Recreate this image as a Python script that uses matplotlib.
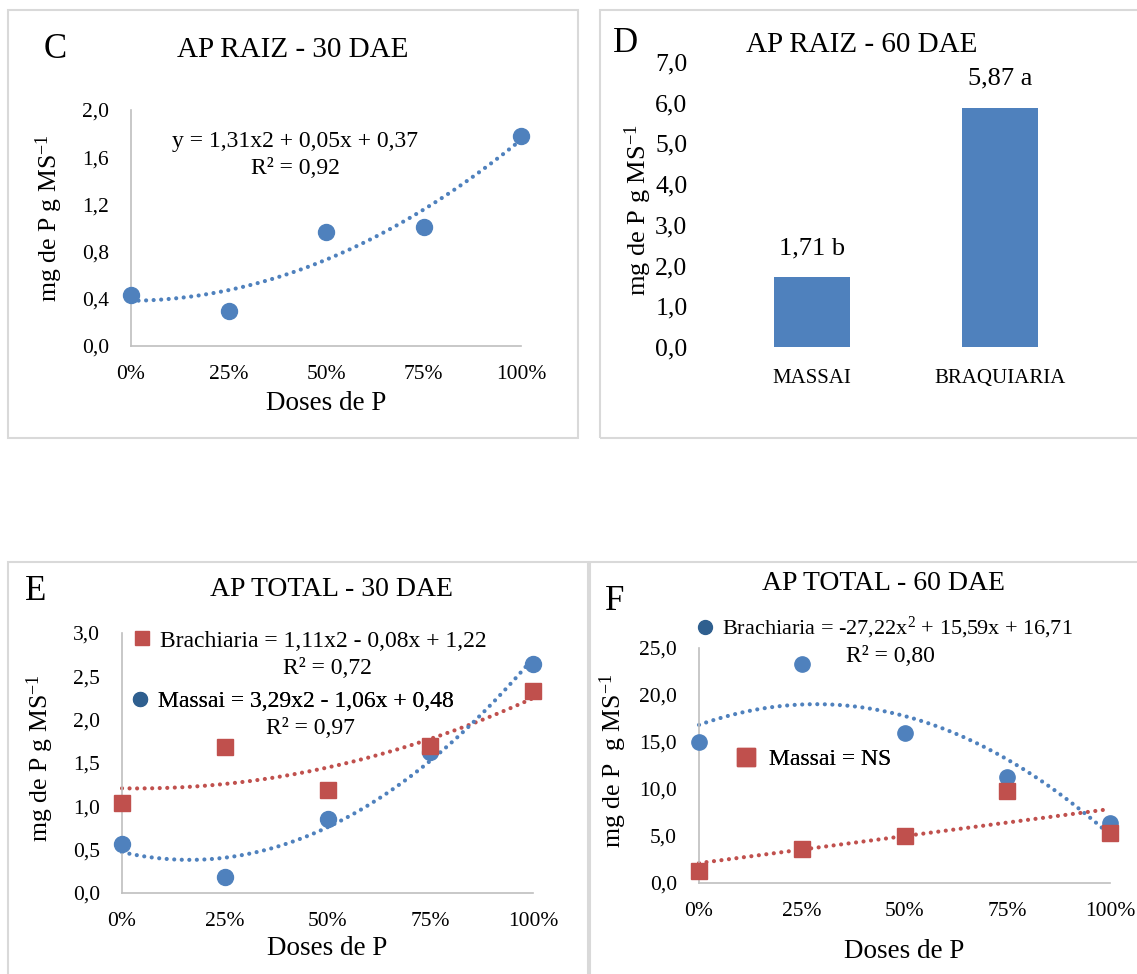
import numpy as np
import matplotlib
matplotlib.use('Agg')
import matplotlib.pyplot as plt
from matplotlib.lines import Line2D
from matplotlib.patches import Rectangle

plt.rcParams['font.family'] = ['Liberation Serif', 'DejaVu Serif']
plt.rcParams['mathtext.fontset'] = 'custom'
plt.rcParams['mathtext.rm'] = 'Liberation Serif'
plt.rcParams['mathtext.it'] = 'Liberation Serif:italic'

# dados
doses = [0.0, 0.25, 0.50, 0.75, 1.00]
dose_labels = ['0%', '25%', '50%', '75%', '100%']

raiz30 = [0.43, 0.30, 0.97, 1.01, 1.78]

cultivares = ['MASSAI', 'BRAQUIARIA']
raiz60 = [1.71, 5.87]
raiz60_letras = ['1,71 b', '5,87 a']

total30_massai = [0.57, 0.18, 0.85, 1.63, 2.64]
total30_brach = [1.04, 1.68, 1.19, 1.70, 2.33]

total60_brach = [14.98, 23.27, 15.97, 11.26, 6.37]
total60_massai = [1.24, 3.61, 4.99, 9.77, 5.35]

azul = '#4F81BD'
verm = '#C0504D'
cinza = '#BFBFBF'
azul_leg = '#2F5F8F'

W, H = 1137, 974
fig = plt.figure(figsize=(W / 100, H / 100), dpi=100)


def fx(px):
    return px / W


def fy(py):
    return 1 - py / H


def eixo(l, t, r, b):
    return fig.add_axes([l / W, 1 - b / H, (r - l) / W, (b - t) / H])


def moldura(l, t, r, b):
    fig.add_artist(Rectangle((fx(l), fy(b)), fx(r) - fx(l), fy(t) - fy(b),
                             transform=fig.transFigure, fill=False,
                             edgecolor='#D9D9D9', lw=1.5))


def virgula(v):
    return '{:.1f}'.format(v).replace('.', ',')


def tendencia(ax, x, y, grau, cor):
    # linha de tendencia polinomial (como no Excel)
    coef = np.polyfit(x, y, grau)
    xx = np.linspace(0, 1, 200)
    ax.plot(xx, np.polyval(coef, xx), color=cor, lw=3.0,
            linestyle=(0, (0.01, 1.8)), dash_capstyle='round', clip_on=False, zorder=2)


def estilo_disp(ax, ymax, passo, tam=15.5):
    ax.set_xlim(0, 1)
    ax.set_ylim(0, ymax)
    ax.set_xticks(doses)
    ax.set_xticklabels(dose_labels)
    yt = np.arange(0, ymax + passo / 2, passo)
    ax.set_yticks(yt)
    ax.set_yticklabels([virgula(v) for v in yt])
    ax.tick_params(length=0, labelsize=tam, pad=14)
    ax.tick_params(axis='y', pad=16)
    for s in ['top', 'right']:
        ax.spines[s].set_visible(False)
    for s in ['left', 'bottom']:
        ax.spines[s].set_color(cinza)
        ax.spines[s].set_linewidth(1.2)


def legenda(ax, marcador, cor, tam, texto, x, y, fs, hl=0.8, tp=0.35):
    leg = ax.legend(handles=[Line2D([], [], marker=marcador, color=cor, ls='none', ms=tam)],
                    labels=[texto], loc='center left',
                    bbox_to_anchor=(fx(x), fy(y)), bbox_transform=fig.transFigure,
                    frameon=False, borderpad=0, borderaxespad=0, handlelength=hl,
                    handletextpad=tp, fontsize=fs)
    ax.add_artist(leg)


ylab = 'mg de P g MS$^{-1}$'

# ---------- C ----------
moldura(8, 10, 578, 438)
axC = eixo(131, 110, 521, 346)
estilo_disp(axC, 2.0, 0.4)
tendencia(axC, doses, raiz30, 2, azul)
axC.plot(doses, raiz30, 'o', color=azul, ms=11.5, clip_on=False, zorder=3)
axC.set_xlabel('Doses de P', fontsize=19.5, labelpad=5)
axC.set_ylabel(ylab, fontsize=18.5)
axC.yaxis.set_label_coords(-0.168, 0.54)
fig.text(fx(55), fy(50), 'C', fontsize=25, ha='center', va='center')
fig.text(fx(293), fy(50), 'AP RAIZ - 30 DAE', fontsize=21, ha='center', va='center')
fig.text(fx(295), fy(141), 'y = 1,31x2 + 0,05x + 0,37', fontsize=17, ha='center', va='center')
fig.text(fx(295), fy(168), 'R² = 0,92', fontsize=17, ha='center', va='center')

# ---------- D ----------
moldura(600, 10, 1150, 438)
axD = eixo(718, 62, 1094, 347)
pos = np.arange(len(cultivares))
axD.bar(pos, raiz60, width=0.4, color=azul)
axD.set_xlim(-0.5, 1.5)
axD.set_ylim(0, 7)
axD.set_yticks(np.arange(0, 7.5, 1))
axD.set_yticklabels([virgula(v) for v in np.arange(0, 7.5, 1)])
axD.set_xticks(pos)
axD.set_xticklabels(cultivares)
axD.tick_params(length=0, labelsize=18.5)
axD.tick_params(axis='y', pad=22)
axD.tick_params(axis='x', labelsize=15, pad=16)
for s in axD.spines.values():
    s.set_visible(False)
for p, v, t in zip(pos, raiz60, raiz60_letras):
    axD.text(p, v + 0.45, t, ha='center', va='bottom', fontsize=19)
axD.set_ylabel(ylab, fontsize=19)
axD.yaxis.set_label_coords(-0.17, 0.48)
fig.text(fx(625), fy(44), 'D', fontsize=25, ha='center', va='center')
fig.text(fx(862), fy(45), 'AP RAIZ - 60 DAE', fontsize=21, ha='center', va='center')

# ---------- E ----------
moldura(8, 562, 588, 985)
axE = eixo(122, 633, 533, 893)
estilo_disp(axE, 3.0, 0.5)
tendencia(axE, doses, total30_brach, 2, verm)
tendencia(axE, doses, total30_massai, 2, azul)
axE.plot(doses, total30_massai, 'o', color=azul, ms=11.5, clip_on=False, zorder=3)
axE.plot(doses, total30_brach, 's', color=verm, ms=11.5, clip_on=False, zorder=4)
axE.set_xlabel('Doses de P', fontsize=19.5, labelpad=3)
axE.set_ylabel(ylab, fontsize=18.5)
axE.yaxis.set_label_coords(-0.16, 0.52)
fig.text(fx(36), fy(591), 'E', fontsize=25, ha='center', va='center')
fig.text(fx(331), fy(590), 'AP TOTAL - 30 DAE', fontsize=20, ha='center', va='center')
legenda(axE, 's', verm, 9.5, 'Brachiaria = 1,11x2 - 0,08x + 1,22', 133, 641, 17)
legenda(axE, 'o', azul_leg, 10, 'Massai = 3,29x2 - 1,06x + 0,48', 131, 701, 17)
fig.text(fx(327), fy(669), 'R² = 0,72', fontsize=17, ha='center', va='center')
fig.text(fx(310), fy(729), 'R² = 0,97', fontsize=17, ha='center', va='center')

# ---------- F ----------
moldura(590, 562, 1150, 985)
axF = eixo(699, 648, 1110, 883)
estilo_disp(axF, 25.0, 5.0)
tendencia(axF, doses, total60_brach, 2, azul)
tendencia(axF, doses, total60_massai, 1, verm)
axF.plot(doses, total60_brach, 'o', color=azul, ms=11, clip_on=False, zorder=3)
axF.plot(doses, total60_massai, 's', color=verm, ms=12, clip_on=False, zorder=4)
axF.set_xlabel('Doses de P', fontsize=19.5, labelpad=13)
axF.set_ylabel('mg de P  g MS$^{-1}$', fontsize=18.5)
axF.yaxis.set_label_coords(-0.17, 0.52)
fig.text(fx(615), fy(602), 'F', fontsize=25, ha='center', va='center')
fig.text(fx(884), fy(583), 'AP TOTAL - 60 DAE', fontsize=20, ha='center', va='center')
legenda(axF, 'o', azul_leg, 10, 'Brachiaria = -27,22x$^2$ + 15,59x + 16,71', 696, 628, 16)
legenda(axF, 's', verm, 13, 'Massai = NS', 734, 759, 17, hl=1.0, tp=0.5)
fig.text(fx(890), fy(656), 'R² = 0,80', fontsize=17, ha='center', va='center')

plt.savefig('out.png', dpi=100)
